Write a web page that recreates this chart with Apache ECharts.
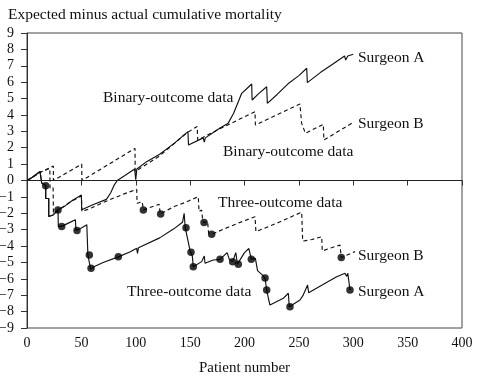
<!DOCTYPE html>
<html>
<head>
<meta charset="utf-8">
<script src="https://cdn.jsdelivr.net/npm/echarts@6/dist/echarts.min.js"></script>
<style>html,body{margin:0;padding:0;background:#fff}#c{width:497px;height:383px}</style>
</head>
<body>
<div id="c"></div>
<script>
// Surgeon A, binary-outcome data (solid)
var binaryA = [[0,0],[5,0.2],[12,0.55],[13.5,0.55],[13.5,-0.15],[17.2,-0.3],[17.2,-1.1],[20,-1.1],[20,-2.2],[24,-2.1],[28.5,-1.8],[35,-1.55],[42,-1.2],[50,-0.88],[50.3,-1.78],[60,-1.5],[73,-1.15],[77,-0.75],[80,-0.3],[83,0],[90,0.3],[99,0.7],[100,0.05],[101,0.7],[110,1.15],[122,1.6],[135,2.25],[148,2.98],[148.5,2.17],[162,2.6],[163,2.35],[164,2.6],[177.5,3.2],[185,3.5],[190,4.1],[194.3,4.8],[197.4,5.32],[202,5.6],[206.6,5.89],[207,4.91],[213,5.3],[220.4,5.72],[221,4.71],[230,5.25],[240,5.9],[250,6.4],[257.2,6.85],[257.8,5.97],[270,6.6],[280,7.05],[290,7.5],[292,7.6],[293,7.35],[295,7.6],[300,7.7]];
// Surgeon B, binary-outcome data (dashed)
var binaryB = [[0,0],[5,0.2],[12,0.5],[14,0.55],[24.2,0.88],[24.3,0],[50.3,1.0],[50.5,0],[99.3,1.96],[99.5,0.55],[122,1.5],[146.8,2.9],[156.5,3.3],[157,2.47],[175,3.08],[209.7,4.2],[210,3.39],[251,4.67],[252.5,3.5],[256,2.88],[272.5,3.43],[273,2.47],[298.6,3.49]];
// Surgeon A, three-outcome data (solid)
var threeA = [[0,0],[5,0.2],[12,0.55],[13.5,0.55],[13.5,-0.15],[17.2,-0.3],[17.2,-1.1],[20,-1.1],[20,-2.2],[24,-2.1],[28.5,-1.8],[28.8,-2.8],[31.9,-2.8],[38,-2.6],[44.5,-2.4],[45,-3.05],[46,-3.05],[50,-2.9],[55,-2.7],[56,-4.55],[57.3,-4.55],[58.5,-5.4],[62,-5.25],[70,-5.0],[84,-4.66],[95,-4.35],[100.9,-4.14],[101.6,-4.45],[102.5,-4.1],[122,-3.5],[135,-2.95],[143,-2.55],[144.5,-2.0],[145.5,-2.88],[146.2,-2.88],[150,-4.3],[150.8,-4.38],[152,-4.6],[152.9,-5.26],[160.6,-4.95],[163,-4.61],[163.7,-5.05],[171.3,-4.85],[177.5,-4.81],[184,-4.4],[185,-4.3],[186,-4.8],[189.1,-4.95],[192,-4.4],[193,-4.35],[193.5,-5.1],[194.3,-5.11],[200,-4.4],[204,-4.15],[205.5,-4.1],[206.3,-4.8],[210,-4.75],[212,-5.5],[217,-5.8],[218.9,-5.95],[220.4,-6.68],[222,-7.2],[223.4,-7.6],[235.7,-7.19],[240.3,-6.88],[241.2,-7.7],[241.8,-7.7],[251,-7.29],[254,-6.99],[258,-6.38],[259,-6.85],[277,-6.17],[284.8,-5.87],[292.4,-5.66],[294,-5.85],[295,-5.66],[297,-6.68]];
// Surgeon B, three-outcome data (dashed)
var threeB = [[0,0],[5,0.2],[12,0.5],[14,0.55],[21,0.74],[21.2,-0.45],[24,-0.4],[24.3,-2.0],[30,-1.75],[40,-1.3],[50,-0.95],[50.5,-1.9],[60,-1.65],[75,-1.2],[90,-0.8],[100.9,-0.54],[101.2,-1.39],[106,-1.3],[107,-1.8],[115,-1.6],[121.5,-1.45],[122.5,-2.04],[135,-1.6],[145,-1.35],[157.5,-0.99],[158.2,-1.9],[160.6,-1.8],[161.5,-2.4],[162.8,-2.57],[166,-2.5],[167,-3.2],[169.8,-3.28],[185,-2.85],[200,-2.45],[209.7,-2.21],[210.5,-3.12],[230,-2.6],[245,-2.15],[252.6,-1.94],[253.5,-3.7],[262,-3.6],[271,-3.43],[271.5,-4.3],[280,-4.1],[287.8,-3.94],[289,-4.7],[301.6,-4.34]];
// dots on three-outcome curves
var dotsA = [[17.2,-0.32],[28.5,-1.8],[31.9,-2.8],[46,-3.05],[57.3,-4.55],[58.9,-5.36],[84,-4.66],[146.2,-2.88],[150.8,-4.38],[152.9,-5.26],[177.5,-4.81],[189.1,-4.95],[194.3,-5.11],[206.3,-4.8],[218.9,-5.95],[220.4,-6.68],[241.8,-7.7],[297,-6.68]];
var dotsB = [[107,-1.8],[122.9,-2.04],[162.8,-2.57],[169.8,-3.28],[289,-4.7]];
var xTicks = [0,50,100,150,200,250,300,350,400];
var yRange = [-9, 9];

var FONT = '"Liberation Serif", "DejaVu Serif", serif';
var chart = echarts.init(document.getElementById('c'), null, {renderer:'canvas'});
function lineSeries(data, dashed){
  return {type:'line', data:data, showSymbol:false, symbol:'none', silent:true,
    lineStyle:{color:'#111', width:1.15, type: dashed ? [4,3] : 'solid'}, z:3};
}
var series = [
  lineSeries(binaryA,false), lineSeries(binaryB,true), lineSeries(threeA,false), lineSeries(threeB,true),
  {type:'scatter', data:dotsA, symbolSize:7.5, itemStyle:{color:'#000'}, z:4},
  {type:'scatter', data:dotsB, symbolSize:7.5, itemStyle:{color:'#000'}, z:4}
];
series[0].markLine = {silent:true, symbol:'none', label:{show:false}, lineStyle:{color:'#222', width:1.2, type:'solid'}, data:[{yAxis:0}]};
function t(text, left, cy, size){
  return {type:'text', left:left, top:cy - size*0.45, style:{text:text, font: size+'px '+FONT, fill:'#111'}};
}
chart.setOption({
  animation:false,
  grid:{left:27, right:35, top:33, bottom:55, containLabel:false, outerBoundsMode:'none', show:true, borderColor:'#444', borderWidth:1, backgroundColor:'transparent'},
  xAxis:{type:'value', min:xTicks[0], max:xTicks[xTicks.length-1], interval:50,
    name:'Patient number', nameLocation:'middle', nameGap:33,
    nameTextStyle:{fontFamily:FONT, fontSize:15, color:'#111'},
    axisLine:{lineStyle:{color:'#333', width:1}}, axisTick:{length:5, lineStyle:{color:'#333'}},
    axisLabel:{fontFamily:FONT, fontSize:14, color:'#111', margin:8}, splitLine:{show:false}},
  yAxis:{type:'value', min:yRange[0], max:yRange[1], interval:1,
    axisLine:{show:true, lineStyle:{color:'#333', width:1}}, axisTick:{show:true, length:6, lineStyle:{color:'#333'}},
    axisLabel:{fontFamily:FONT, fontSize:14, color:'#111', margin:13, formatter:function(v){return String(v).replace('-', '\u2212');}},
    splitLine:{show:false}},
  graphic:[
    t('Expected minus actual cumulative mortality', 8, 14, 15.5),
    t('Surgeon A', 358, 57, 15.5),
    t('Binary-outcome data', 103, 97, 15.5),
    t('Surgeon B', 358, 123, 15.5),
    t('Binary-outcome data', 223, 151, 15.5),
    t('Three-outcome data', 218, 202, 15.5),
    t('Surgeon B', 358, 255, 15.5),
    t('Three-outcome data', 127, 291, 15.5),
    t('Surgeon A', 358, 291, 15.5)
  ],
  series:series
});
</script>
</body>
</html>
